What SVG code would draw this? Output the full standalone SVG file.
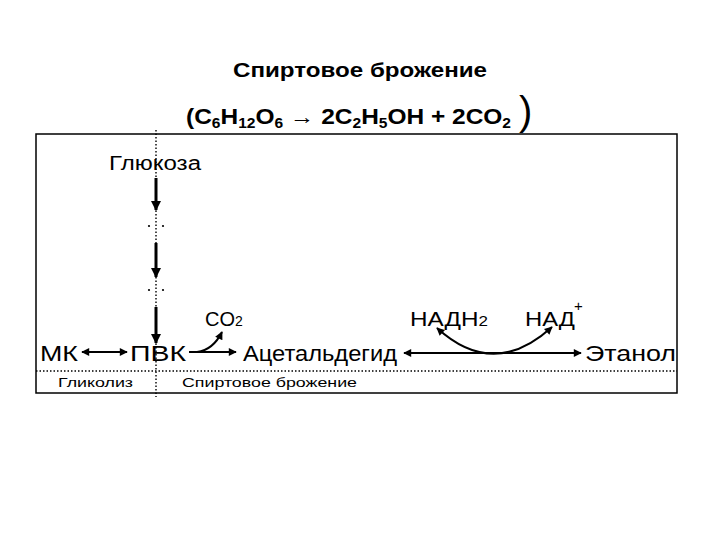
<svg xmlns="http://www.w3.org/2000/svg" width="720" height="540" viewBox="0 0 720 540">
<style>
text{font-family:"Liberation Sans",Arial,sans-serif;fill:#000}
.title{font-size:21px;font-weight:bold}
.lbl{font-size:22px}
.mid{font-size:20px}
.small{font-size:13px}
.ln{fill:none;stroke:#000}
.dot{fill:none;stroke:#000;stroke-width:1.4;stroke-dasharray:1.5,2}
</style>
<defs>
<marker id="ah" viewBox="0 0 10 10" refX="9" refY="5" markerWidth="10" markerHeight="8" markerUnits="userSpaceOnUse" orient="auto-start-reverse"><path d="M0,0 L10,5 L0,10 Z" fill="#000"/></marker>
<marker id="ahv" viewBox="0 0 10 10" refX="9" refY="5" markerWidth="11" markerHeight="10" markerUnits="userSpaceOnUse" orient="auto"><path d="M0,0 L10,5 L0,10 Z" fill="#000"/></marker>
</defs>
<g id="header">
<text class="title" x="233" y="77" textLength="254" lengthAdjust="spacingAndGlyphs">Спиртовое брожение</text>
<text class="title" x="186" y="124" style="font-size:22px" textLength="325" lengthAdjust="spacingAndGlyphs">(C<tspan font-size="14" dy="4">6</tspan><tspan dy="-4">H</tspan><tspan font-size="14" dy="4">12</tspan><tspan dy="-4">O</tspan><tspan font-size="14" dy="4">6</tspan><tspan dy="-4" font-weight="normal"> → </tspan><tspan>2C</tspan><tspan font-size="14" dy="4">2</tspan><tspan dy="-4">H</tspan><tspan font-size="14" dy="4">5</tspan><tspan dy="-4">OH + 2CO</tspan><tspan font-size="14" dy="4">2</tspan></text>
<text x="519" y="125" font-size="40">)</text>
</g>
<g id="frame">
<rect x="36" y="134" width="641" height="259" class="ln" stroke-width="1.5"/>
<line x1="156" y1="130" x2="156" y2="397" class="dot"/>
<line x1="36" y1="371" x2="677" y2="371" class="dot"/>
</g>
<g id="glucose"><text class="mid" x="109" y="170" textLength="92" lengthAdjust="spacingAndGlyphs">Глюкоза</text></g>
<g id="mk"><text class="lbl" x="40" y="361" textLength="38" lengthAdjust="spacingAndGlyphs">МК</text></g>
<g id="pvk"><text class="lbl" x="130" y="361" textLength="56" lengthAdjust="spacingAndGlyphs">ПВК</text></g>
<g id="co2"><text class="mid" x="205" y="326">CO<tspan font-size="14">2</tspan></text></g>
<g id="acetaldehyde"><text class="lbl" x="243" y="361" textLength="154" lengthAdjust="spacingAndGlyphs">Ацетальдегид</text></g>
<g id="nadh2"><text class="mid" x="410" y="326" textLength="78" lengthAdjust="spacingAndGlyphs">НАДН<tspan font-size="14">2</tspan></text></g>
<g id="nad"><text class="mid" x="525" y="326" textLength="50" lengthAdjust="spacingAndGlyphs">НАД</text><text x="574" y="311" font-size="15">+</text></g>
<g id="ethanol"><text class="lbl" x="585" y="361" textLength="91" lengthAdjust="spacingAndGlyphs">Этанол</text></g>
<g id="glycolysis"><text class="small" x="58" y="387" textLength="75" lengthAdjust="spacingAndGlyphs">Гликолиз</text></g>
<g id="fermentation"><text class="small" x="182" y="387" textLength="175" lengthAdjust="spacingAndGlyphs">Спиртовое брожение</text></g>
<g id="dots">
<circle cx="149" cy="226" r="1.1"/><circle cx="163" cy="226" r="1.1"/>
<circle cx="149" cy="290" r="1.1"/><circle cx="163" cy="290" r="1.1"/>
</g>
<g id="connectors">
<line x1="156" y1="178" x2="156" y2="210" class="ln" stroke-width="3" marker-end="url(#ahv)"/>
<line x1="156" y1="243" x2="156" y2="277" class="ln" stroke-width="3" marker-end="url(#ahv)"/>
<line x1="156" y1="307" x2="156" y2="343" class="ln" stroke-width="3" marker-end="url(#ahv)"/>
<line x1="82" y1="352" x2="127" y2="352" class="ln" stroke-width="2" marker-start="url(#ah)" marker-end="url(#ah)"/>
<line x1="189" y1="352" x2="236" y2="352" class="ln" stroke-width="2" marker-end="url(#ah)"/>
<path d="M197,352 Q213,350 222,332" class="ln" stroke-width="2" marker-end="url(#ah)"/>
<line x1="404" y1="353" x2="581" y2="353" class="ln" stroke-width="2" marker-start="url(#ah)" marker-end="url(#ah)"/>
<path d="M437,328 Q494,380 552,327" class="ln" stroke-width="2" marker-start="url(#ah)" marker-end="url(#ah)"/>
</g>
</svg>
